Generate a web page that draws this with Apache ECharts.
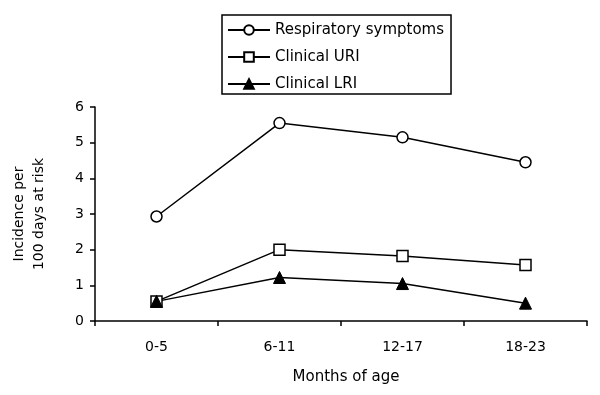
<!DOCTYPE html>
<html><head><meta charset="utf-8">
<script src="https://cdn.jsdelivr.net/npm/echarts@6/dist/echarts.min.js"></script>
<style>html,body{margin:0;padding:0;background:#fff}#c{width:600px;height:395px}</style>
</head><body><div id="c"></div>
<script>
const categories = ['0-5', '6-11', '12-17', '18-23'];
const respiratory = [2.93, 5.55, 5.15, 4.45];
const uri = [0.55, 2.0, 1.82, 1.57];
const lri = [0.55, 1.22, 1.05, 0.5];
const yTicks = [0, 1, 2, 3, 4, 5, 6];

const FONT = '"DejaVu Sans", "Liberation Sans", Arial, sans-serif';
const chart = echarts.init(document.getElementById('c'), null, {renderer: 'canvas'});
const lineStyle = {color: '#000', width: 1.5};
chart.setOption({
  animation: false,
  backgroundColor: '#fff',
  textStyle: {fontFamily: FONT, color: '#000'},
  legend: {
    orient: 'vertical',
    left: 222, top: 15,
    padding: [7, 7, 2, 5],
    itemGap: 11,
    itemWidth: 42, itemHeight: 12,
    borderColor: '#000', borderWidth: 1.5,
    textStyle: {fontFamily: FONT, fontSize: 15, lineHeight: 16, color: '#000'},
    data: ['Respiratory symptoms', 'Clinical URI', 'Clinical LRI']
  },
  grid: {left: 95, right: 13, top: 107, bottom: 74, outerBoundsMode: 'none', containLabel: false},
  xAxis: {
    type: 'category',
    data: categories,
    boundaryGap: true,
    axisLine: {lineStyle: {color: '#000', width: 1.5}},
    axisTick: {show: true, inside: false, length: 5, lineStyle: {color: '#000', width: 1.5}},
    axisLabel: {color: '#000', fontSize: 14, margin: 19, fontFamily: FONT},
    name: 'Months of age',
    nameLocation: 'middle',
    nameGap: 49,
    nameTextStyle: {color: '#000', fontSize: 15, fontFamily: FONT, padding: [0, 0, 0, 10]}
  },
  yAxis: {
    type: 'value',
    min: yTicks[0], max: yTicks[yTicks.length - 1], interval: 1,
    splitLine: {show: false},
    axisLine: {show: true, lineStyle: {color: '#000', width: 1.5}},
    axisTick: {show: true, inside: false, length: 5, lineStyle: {color: '#000', width: 1.5}},
    axisLabel: {color: '#000', fontSize: 14, margin: 11, fontFamily: FONT},
    name: 'Incidence per\n100 days at risk',
    nameLocation: 'middle',
    nameGap: 46,
    nameTextStyle: {color: '#000', fontSize: 14, fontFamily: FONT, lineHeight: 20}
  },
  series: [
    {name: 'Respiratory symptoms', type: 'line', data: respiratory,
     symbol: 'circle', symbolSize: 11, lineStyle: lineStyle,
     itemStyle: {color: '#fff', borderColor: '#000', borderWidth: 1.5}},
    {name: 'Clinical URI', type: 'line', data: uri,
     symbol: 'rect', symbolSize: 11, lineStyle: lineStyle,
     itemStyle: {color: '#fff', borderColor: '#000', borderWidth: 1.5}},
    {name: 'Clinical LRI', type: 'line', data: lri,
     symbol: 'triangle', symbolSize: 12, lineStyle: lineStyle,
     itemStyle: {color: '#000', borderColor: '#000', borderWidth: 1}}
  ]
});
</script></body></html>
